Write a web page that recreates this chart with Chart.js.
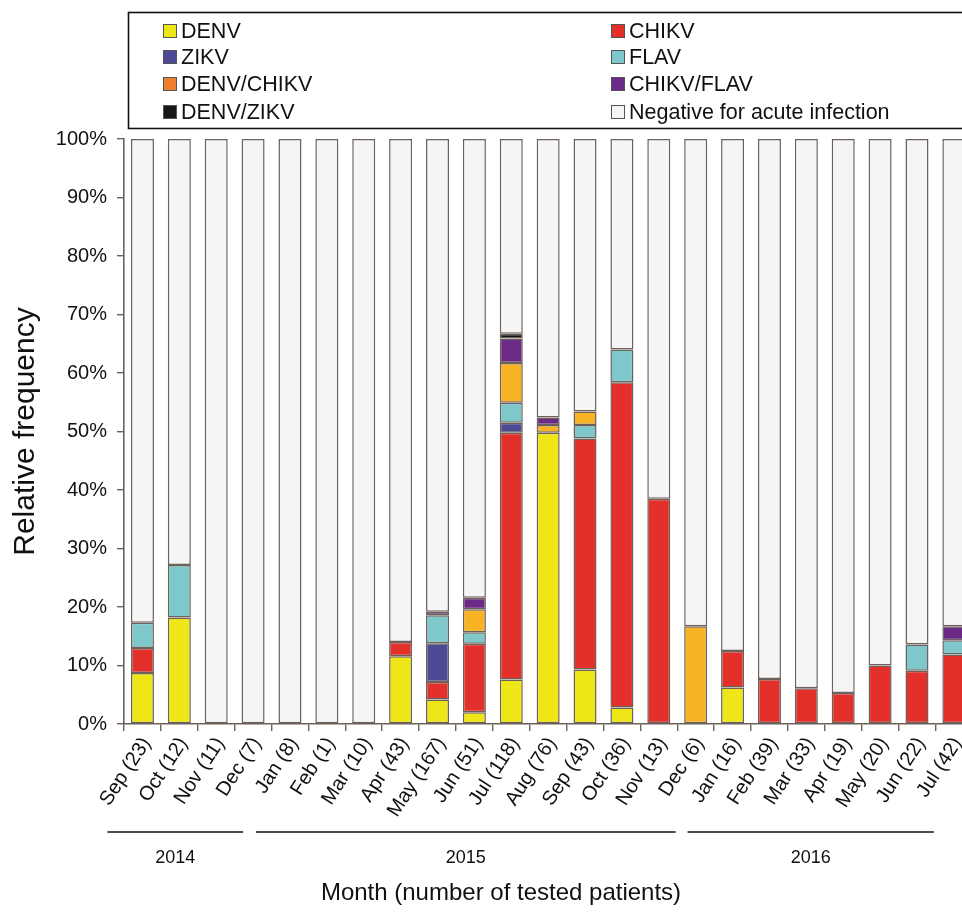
<!DOCTYPE html>
<html>
<head>
<meta charset="utf-8">
<script src="https://cdn.jsdelivr.net/npm/chart.js@4/dist/chart.umd.min.js"></script>
<style>
  body { margin: 0; overflow: hidden; background: #fff; }
  #wrap { width: 976px; height: 912px; }
</style>
</head>
<body>
<div id="wrap"><canvas id="myChart" width="976" height="912"></canvas></div>
<script>
const months = [
  'Sep (23)', 'Oct (12)', 'Nov (11)', 'Dec (7)',
  'Jan (8)', 'Feb (1)', 'Mar (10)', 'Apr (43)', 'May (167)', 'Jun (51)',
  'Jul (118)', 'Aug (76)', 'Sep (43)', 'Oct (36)', 'Nov (13)', 'Dec (6)',
  'Jan (16)', 'Feb (39)', 'Mar (33)', 'Apr (19)', 'May (20)', 'Jun (22)', 'Jul (42)',
];

const denv      = [8.7, 18.2, 0, 0, 0, 0, 0, 11.6, 4.2, 2.0, 7.6, 49.8, 9.3, 2.8, 0, 0, 6.25, 0, 0, 0, 0, 0, 0];
const chikv     = [4.3, 0, 0, 0, 0, 0, 0, 2.4, 3.0, 11.7, 42.2, 0, 39.5, 55.6, 38.5, 0, 6.25, 7.7, 6.1, 5.3, 10.0, 9.1, 11.9];
const zikv      = [0, 0, 0, 0, 0, 0, 0, 0, 6.6, 0, 1.7, 0, 0, 0, 0, 0, 0, 0, 0, 0, 0, 0, 0];
const flav      = [4.3, 9.0, 0, 0, 0, 0, 0, 0, 4.8, 2.0, 3.4, 0, 2.3, 5.6, 0, 0, 0, 0, 0, 0, 0, 4.5, 2.4];
const denvChikv = [0, 0, 0, 0, 0, 0, 0, 0, 0, 3.9, 6.8, 1.3, 2.3, 0, 0, 16.7, 0, 0, 0, 0, 0, 0, 0];
const chikvFlav = [0, 0, 0, 0, 0, 0, 0, 0, 0.6, 2.0, 4.2, 1.3, 0, 0, 0, 0, 0, 0, 0, 0, 0, 0, 2.4];
const denvZikv  = [0, 0, 0, 0, 0, 0, 0, 0, 0, 0, 0.8, 0, 0, 0, 0, 0, 0, 0, 0, 0, 0, 0, 0];
const negative  = [82.7, 72.8, 100, 100, 100, 100, 100, 86.0, 80.8, 78.4, 33.3, 47.6, 46.6, 36.0, 61.5, 83.3, 87.5, 92.3, 93.9, 94.7, 90.0, 86.4, 83.3];

const yTicks = [0, 10, 20, 30, 40, 50, 60, 70, 80, 90, 100];
const years = [
  { label: '2014', from: 0, to: 3 },
  { label: '2015', from: 4, to: 15 },
  { label: '2016', from: 16, to: 22 },
];

const FONT = '"Liberation Sans", Arial, Helvetica, sans-serif';
const EDGE = '#6c615b';

// legend column / order as in the figure
const series = [
  { label: 'DENV', data: denv, color: '#efe617', col: 0, row: 0 },
  { label: 'CHIKV', data: chikv, color: '#e3302b', col: 1, row: 0 },
  { label: 'ZIKV', data: zikv, color: '#4b4a92', col: 0, row: 1 },
  { label: 'FLAV', data: flav, color: '#7ec8cc', col: 1, row: 1 },
  { label: 'DENV/CHIKV', data: denvChikv, color: '#f8b325', legendColor: '#ef7f2b', col: 0, row: 2 },
  { label: 'CHIKV/FLAV', data: chikvFlav, color: '#6b2a86', col: 1, row: 2 },
  { label: 'DENV/ZIKV', data: denvZikv, color: '#161616', col: 0, row: 3 },
  { label: 'Negative for acute infection', data: negative, color: '#f6f5f5', col: 1, row: 3 },
];

const data = {
  labels: months,
  datasets: series.map((s) => ({
    label: s.label,
    data: s.data.map((v) => (v === 0 ? null : v)),
    backgroundColor: s.color,
    borderColor: EDGE,
    borderWidth: 1.5,
    borderSkipped: false,
    barPercentage: 0.8,
    categoryPercentage: 0.78,
  })),
};

const boxLegend = {
  id: 'boxLegend',
  afterDraw(chart) {
    const { ctx } = chart;
    ctx.save();
    ctx.strokeStyle = '#111';
    ctx.lineWidth = 1.6;
    ctx.strokeRect(128.5, 12.5, 900, 116);

    ctx.font = '21.5px ' + FONT;
    ctx.textBaseline = 'middle';
    ctx.textAlign = 'left';
    const colX = [163, 611];
    const rowY = [31, 57, 84, 112];
    series.forEach((s) => {
      const x = colX[s.col];
      const y = rowY[s.row];
      ctx.fillStyle = s.legendColor || s.color;
      ctx.fillRect(x, y - 7, 14, 14);
      ctx.strokeStyle = '#555';
      ctx.lineWidth = 1;
      ctx.strokeRect(x + 0.5, y - 6.5, 13, 13);
      ctx.fillStyle = '#111';
      ctx.fillText(s.label, x + 18, y + 1);
    });
    ctx.restore();
  },
};

// bracket trims (px) relative to the first / last category centre
const bracketTrim = [[-35, -10], [-34, -20], [-45, -20]];

const yearBrackets = {
  id: 'yearBrackets',
  afterDraw(chart) {
    const { ctx, scales: { x } } = chart;
    ctx.save();
    ctx.strokeStyle = '#111';
    ctx.lineWidth = 1.6;
    ctx.fillStyle = '#111';
    ctx.font = '18px ' + FONT;
    ctx.textAlign = 'center';
    ctx.textBaseline = 'middle';
    years.forEach((yr, i) => {
      const x0 = x.getPixelForValue(yr.from) + bracketTrim[i][0];
      const x1 = x.getPixelForValue(yr.to) + bracketTrim[i][1];
      ctx.beginPath();
      ctx.moveTo(x0, 832);
      ctx.lineTo(x1, 832);
      ctx.stroke();
      ctx.fillText(yr.label, (x0 + x1) / 2, 858);
    });

    ctx.font = '24px ' + FONT;
    ctx.fillText('Month (number of tested patients)', 501, 893);
    ctx.restore();
  },
};

const config = {
  type: 'bar',
  data,
  options: {
    responsive: false,
    animation: false,
    layout: { padding: { top: 139, left: 0, right: 0, bottom: 0 } },
    plugins: {
      legend: { display: false },
      tooltip: { enabled: false },
    },
    scales: {
      x: {
        stacked: true,
        afterFit: (scale) => { scale.height = 188; },
        grid: {
          offset: true,
          drawOnChartArea: false,
          drawTicks: true,
          tickLength: 7,
          color: EDGE,
          lineWidth: 1.4,
        },
        border: { display: true, color: EDGE, width: 1.6 },
        ticks: {
          autoSkip: false,
          minRotation: 57,
          maxRotation: 57,
          color: '#111',
          padding: 2,
          labelOffset: 4,
          font: { family: FONT, size: 20 },
        },
      },
      y: {
        stacked: true,
        min: 0,
        max: 100,
        afterFit: (scale) => { scale.width = 124; },
        afterBuildTicks: (scale) => {
          scale.ticks = yTicks.map((v) => ({ value: v }));
        },
        grid: {
          drawOnChartArea: false,
          drawTicks: true,
          tickLength: 7,
          color: EDGE,
          lineWidth: 1.4,
        },
        border: { display: true, color: EDGE, width: 1.6 },
        ticks: {
          color: '#111',
          padding: 10,
          font: { family: FONT, size: 20 },
          callback: (v) => v + '%',
        },
        title: {
          display: true,
          text: 'Relative frequency',
          color: '#111',
          padding: { top: 8, bottom: 0 },
          font: { family: FONT, size: 30 },
        },
      },
    },
  },
  plugins: [boxLegend, yearBrackets],
};

const myChart = new Chart(document.getElementById('myChart'), config);
</script>
</body>
</html>
